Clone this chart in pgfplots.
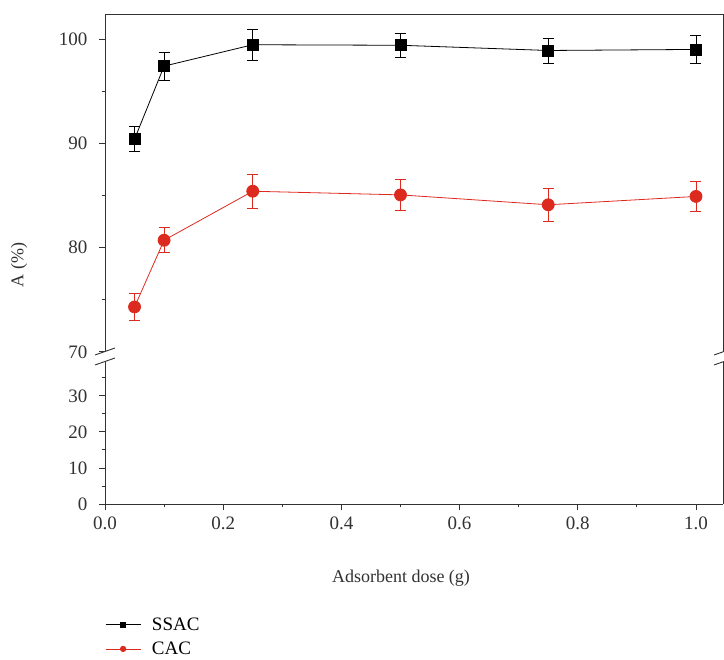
\documentclass[border=0pt]{standalone}
\usepackage{pgfplots}
\pgfplotsset{compat=1.18}
\usepackage{fontspec}
\setmainfont{Liberation Serif}
\definecolor{cacred}{RGB}{221,42,30}
\definecolor{axgray}{RGB}{50,50,50}
\begin{document}
\begin{tikzpicture}[x=1pt,y=1pt]
\useasboundingbox (0pt,0pt) rectangle (724pt,660pt);
\pgfplotsset{
  common/.style={
    scale only axis, width=618pt, xmin=0, xmax=1.0457,
    tick align=outside, major tick length=6pt, minor tick length=3.5pt,
    /pgf/number format/assume math mode=true,
    tick label style={font=\fontsize{19}{22}\selectfont, text=axgray},
    yticklabel style={xshift=-8pt},
    xticklabel style={yshift=-3pt},
    axis line style={-, line width=0.9pt, axgray},
    every tick/.style={axgray, line width=0.9pt},
    clip=false,
  },
  ssac/.style={black, line width=0.8pt, mark=square*, mark size=5.5pt,
    error bars/.cd, y dir=both, y explicit,
    error bar style={black, line width=0.8pt},
    error mark options={rotate=90, mark size=5.5pt, black, line width=0.8pt}},
  cac/.style={cacred, line width=0.8pt, mark=*, mark size=6pt,
    error bars/.cd, y dir=both, y explicit,
    error bar style={cacred, line width=0.8pt},
    error mark options={rotate=90, mark size=5.5pt, cacred, line width=0.8pt}},
}
% upper axis
\begin{axis}[common, at={(105pt,303pt)}, anchor=south west, height=343pt,
  ymin=69.5, ymax=102.4,
  axis x line*=top, axis y line*=left,
  xtick=\empty, ytick={70,80,90,100}, minor ytick={75,85,95},
  legend style={at={(0,-0.816)}, anchor=west, draw=none, fill=none,
    font=\fontsize{19}{22}\selectfont, row sep=6pt, column sep=9pt,
    cells={anchor=west, inner sep=1pt}, inner sep=0pt},
  legend image code/.code={\draw[mark repeat=2, mark phase=2, mark options={scale=0.45}]
    plot coordinates {(0pt,0pt)(17.5pt,0pt)(35pt,0pt)};},
]
\addplot[ssac] coordinates {
 (0.05,90.4) +- (0,1.2)
 (0.10,97.4) +- (0,1.35)
 (0.25,99.45) +- (0,1.5)
 (0.50,99.4) +- (0,1.15)
 (0.75,98.9) +- (0,1.2)
 (1.00,99.0) +- (0,1.3)
};
\addlegendentry{SSAC}
\addplot[cac] coordinates {
 (0.05,74.3) +- (0,1.3)
 (0.10,80.7) +- (0,1.2)
 (0.25,85.4) +- (0,1.6)
 (0.50,85.05) +- (0,1.45)
 (0.75,84.1) +- (0,1.6)
 (1.00,84.9) +- (0,1.4)
};
\addlegendentry{CAC}
\draw[line width=0.9pt, axgray] (rel axis cs:1,0) -- (rel axis cs:1,1);
\end{axis}
% lower axis
\begin{axis}[common, at={(105pt,156pt)}, anchor=south west, height=147pt,
  ymin=0, ymax=40.8,
  axis x line*=bottom, axis y line*=left,
  ytick={0,10,20,30}, minor ytick={5,15,25,35},
  xtick={0,0.2,0.4,0.6,0.8,1.0}, minor xtick={0.1,0.3,0.5,0.7,0.9},
  xticklabel style={/pgf/number format/.cd, fixed, fixed zerofill, precision=1},
]
\draw[line width=0.9pt, axgray] (rel axis cs:1,0) -- (rel axis cs:1,1);
\end{axis}
% break marks
\fill[white] (95pt,295pt) -- (115pt,302pt) -- (115pt,312pt) -- (95pt,305pt) -- cycle;
\draw[line width=0.9pt, axgray] (95pt,305pt) -- (115pt,312pt);
\draw[line width=0.9pt, axgray] (95pt,295pt) -- (115pt,302pt);
\fill[white] (714pt,295pt) -- (734pt,302pt) -- (734pt,312pt) -- (714pt,305pt) -- cycle;
\draw[line width=0.9pt, axgray] (714pt,305pt) -- (734pt,312pt);
\draw[line width=0.9pt, axgray] (714pt,295pt) -- (734pt,302pt);
% labels
\node[font=\fontsize{18}{21}\selectfont, text=axgray] at (401pt,82pt) {Adsorbent dose (g)};
\node[font=\fontsize{18}{21}\selectfont, text=axgray, rotate=90] at (19pt,395pt) {A (\%)};
\end{tikzpicture}
\end{document}
